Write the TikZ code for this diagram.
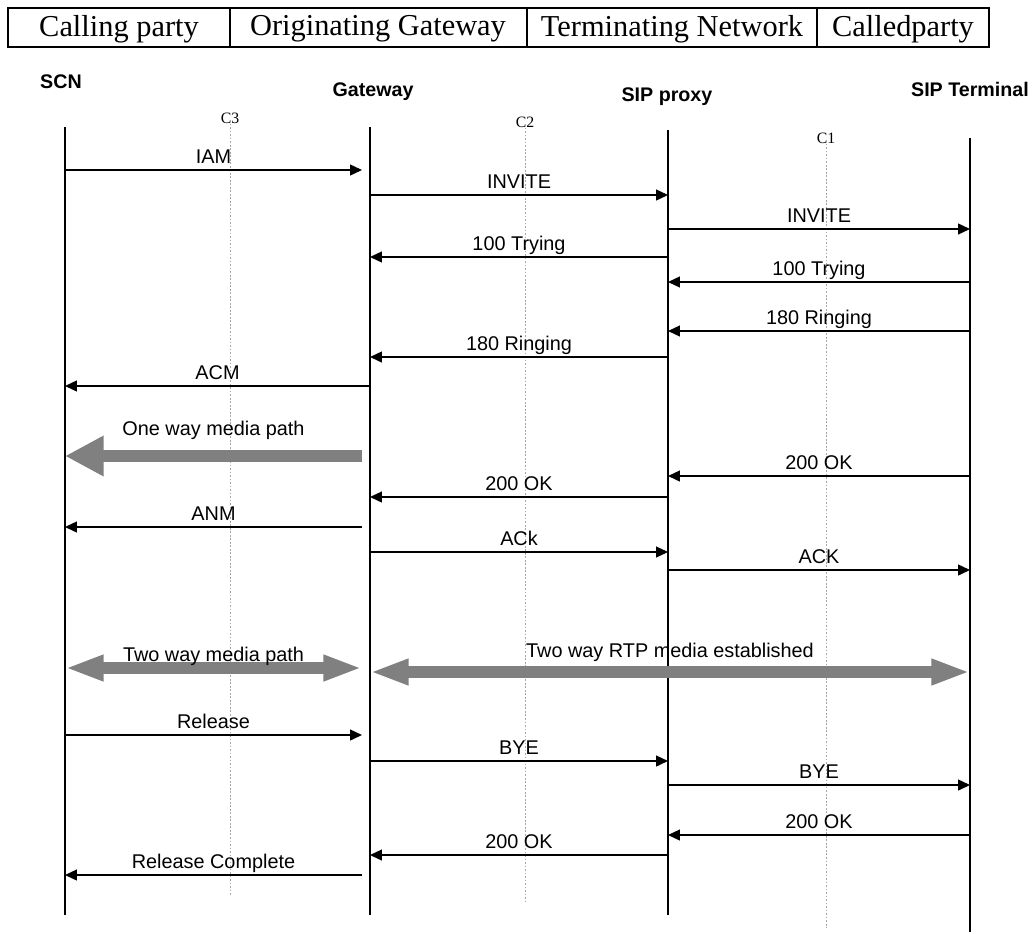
\documentclass[tikz,border=0pt]{standalone}
\usepackage{fontspec}
\setmainfont{Liberation Serif}
\setsansfont{Liberation Sans}
\usetikzlibrary{positioning, arrows.meta}

\definecolor{mediagray}{RGB}{128,128,128}

\begin{document}
\begin{tikzpicture}[
    x=0.02cm, y=-0.02cm,
    % Style for the lifelines of the four parties
    life/.style = {line width=1.1pt},
    % Style for the light dotted guide lines C1..C3
    guide/.style = {mediagray!70, line width=0.5pt, dash pattern=on 1pt off 1pt},
    % Style for the signalling messages
    msg/.style = {-{Triangle[length=6.8pt, width=6.2pt]}, line width=0.9pt},
    % Style for the message labels, set just above the arrow
    lbl/.style = {font=\sffamily\fontsize{11.3}{13}\selectfont, text=black, inner sep=0pt, text depth=0pt, above=3pt},
    % Style for the party names over the lifelines
    head/.style = {font=\sffamily\bfseries\fontsize{11.2}{13}\selectfont, inner sep=0pt},
    % Style for the small guide tags
    tag/.style = {font=\rmfamily\fontsize{9}{10}\selectfont, inner sep=0pt},
    % Style for the header table cells
    cell/.style = {font=\rmfamily\fontsize{17.3}{20}\selectfont, inner sep=0pt},
    % Styles for the thick grey media paths
    media/.style = {mediagray, line width=6.8pt},
    oneway/.style = {media, -{Triangle[length=22pt, width=21.6pt]}},
    twoway/.style = {media, {Triangle[length=22pt, width=13.6pt]}-{Triangle[length=22pt, width=13.6pt]}}
]
    \useasboundingbox (0,0) rectangle (1034,933);

    % --- HEADER TABLE ---
    \draw[line width=0.7pt] (8,8) rectangle (989,47);
    \foreach \x in {230,527,817} {
        \draw[line width=0.7pt] (\x,8) -- (\x,47);
    }
    \node[cell] (calling) at (119,29) {Calling party};
    \node[cell] (orig) at (378,29) {Originating Gateway};
    \node[cell] (term) at (672,29) {Terminating Network};
    \node[cell] (called) at (903,29) {Calledparty};

    % --- PARTIES ---
    \node[head] (scn) at (61,82) {SCN};
    \node[head] (gw) at (373,92) {Gateway};
    \node[head] (sp) at (667,97) {SIP proxy};
    \node[head] (st) at (970,89) {SIP Terminal};

    % lifeline ends
    \coordinate (scnT) at (65,127);
    \coordinate (scnB) at (65,915);
    \coordinate (gwT) at (370,127);
    \coordinate (gwB) at (370,915);
    \coordinate (gwS) at (362,127);
    \coordinate (spT) at (668,130);
    \coordinate (spB) at (668,915);
    \coordinate (stT) at (970,138);
    \coordinate (stB) at (970,932);

    \draw[life] (scnT) -- (scnB);
    \draw[life] (gwT) -- (gwB);
    \draw[life] (spT) -- (spB);
    \draw[life] (stT) -- (stB);

    % --- GUIDES C3, C2, C1 ---
    \node[tag] (c3) at (230,118) {C3};
    \node[tag] (c2) at (525,122) {C2};
    \node[tag] (c1) at (826,138) {C1};
    \coordinate (c3B) at (230,896);
    \coordinate (c2B) at (525,902);
    \coordinate (c1B) at (826,928);
    \draw[guide] (c3.south) -- (c3B);
    \draw[guide] (c2.south) -- (c2B);
    \draw[guide] (c1.south) -- (c1B);

    % --- MEDIA PATHS ---
    \draw[oneway] (gwS |- 0,456) -- (scnT |- 0,456)
        node[lbl, pos=0.5, above=8pt] (onewaylbl) {One way media path};
    \draw[twoway] (scnT |- 0,668) -- (gwS |- 0,668)
        node[lbl, midway, above=0.5pt] (twowaylbl) {Two way media path};
    \draw[twoway] (gwT |- 0,672) -- (stT |- 0,672)
        node[lbl, midway, above=5pt] (rtplbl) {Two way RTP media established};

    % --- SIGNALLING MESSAGES ---
    \foreach \y/\a/\b/\txt in {
        170/scnT/gwS/IAM,
        195/gwT/spT/INVITE,
        229/spT/stT/INVITE,
        257/spT/gwT/100 Trying,
        282/stT/spT/100 Trying,
        331/stT/spT/180 Ringing,
        357/spT/gwT/180 Ringing,
        386/gwT/scnT/ACM,
        476/stT/spT/200 OK,
        497/spT/gwT/200 OK,
        527/gwS/scnT/ANM,
        552/gwT/spT/ACk,
        570/spT/stT/ACK,
        735/scnT/gwS/Release,
        761/gwT/spT/BYE,
        785/spT/stT/BYE,
        835/stT/spT/200 OK,
        855/spT/gwT/200 OK,
        875/gwS/scnT/Release Complete} {
        \draw[msg] (\a |- 0,\y) -- (\b |- 0,\y) node[lbl, midway] {\txt};
    }

\end{tikzpicture}
\end{document}
